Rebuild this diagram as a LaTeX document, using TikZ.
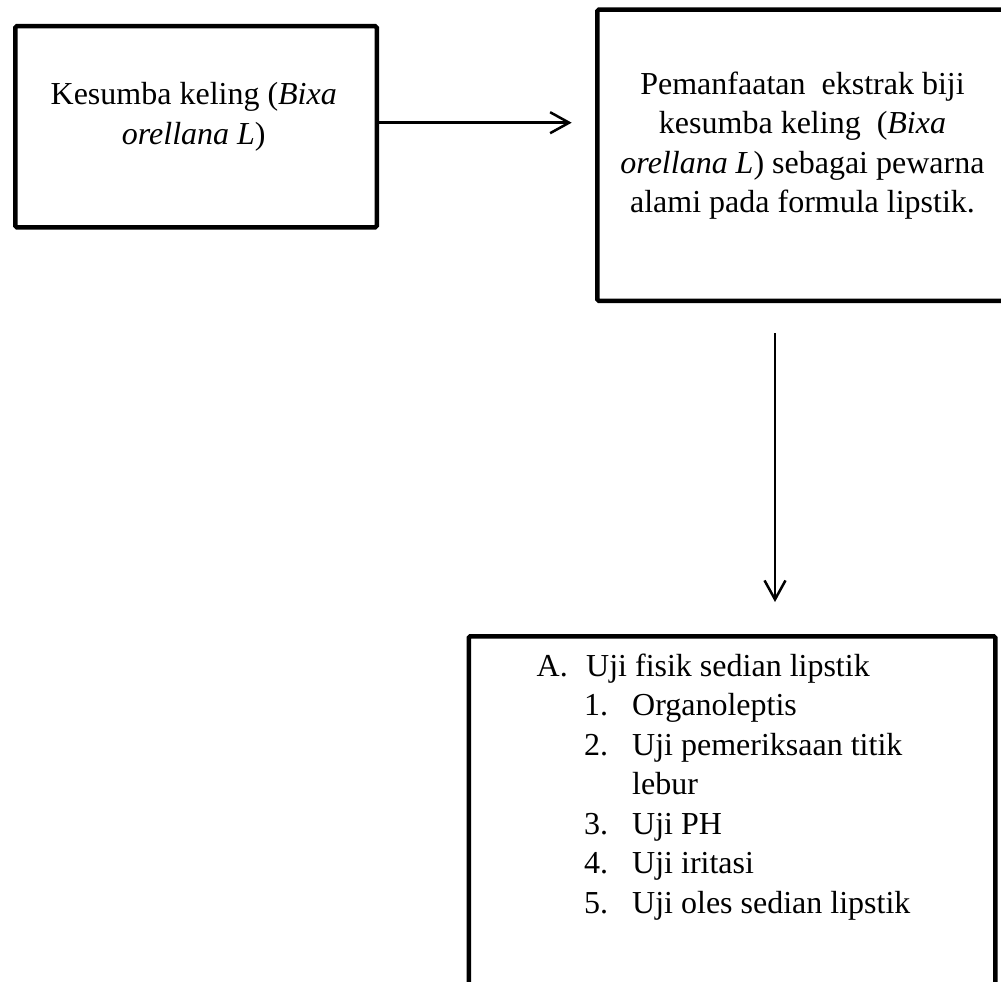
\documentclass[tikz,border=0pt]{standalone}
\usepackage{fontspec}
\setmainfont{Liberation Serif}
\usetikzlibrary{arrows.meta}
\begin{document}
\begin{tikzpicture}[x=1pt,y=-1pt,
  box/.style={draw=black, line width=4.5pt, rounded corners=1.5pt, inner sep=0pt, anchor=north west},
  txt/.style={inner sep=0pt, font=\fontsize{32}{40}\selectfont},
  ctr/.style={txt, anchor=base},
  lft/.style={txt, anchor=base west},
  conn/.style={line width=2.5pt, -{Straight Barb[length=19pt,width=21pt,line width=2.5pt]}}]
\useasboundingbox (0,0) rectangle (1001,982);
\fill[white] (0,0) rectangle (1001,982);
\clip (0,0) rectangle (1001,982);
% boxes
\node[box, minimum width=361.5pt, minimum height=201pt] (b1) at (13,24) {};
\node[box, minimum width=414pt, minimum height=291pt] (b2) at (595,7.5) {};
\node[box, minimum width=526.5pt, minimum height=386pt] (b3) at (466.5,634) {};
% box 1 text
\node[ctr] (t1a) at (193.75,104) {Kesumba keling (\textit{Bixa}};
\node[ctr] (t1b) at (193.75,144) {\textit{orellana L})};
% box 2 text
\node[ctr] (t2a) at (802.5,94) {Pemanfaatan\ \ ekstrak biji};
\node[ctr] (t2b) at (802.5,133.5) {kesumba keling\ \ (\textit{Bixa}};
\node[ctr] (t2c) at (802.5,173) {\textit{orellana L}) sebagai pewarna};
\node[ctr] (t2d) at (802.5,212.5) {alami pada formula lipstik.};
% box 3 text
\node[lft] (lA) at (536.5,676) {A.};
\node[lft] (iA) at (586,676) {Uji fisik sedian lipstik};
\node[lft] (l1) at (584,715.5) {1.};
\node[lft] (i1) at (632,715.5) {Organoleptis};
\node[lft] (l2) at (584,755) {2.};
\node[lft] (i2) at (632,755) {Uji pemeriksaan titik};
\node[lft] (i2b) at (632,794.5) {lebur};
\node[lft] (l3) at (584,834) {3.};
\node[lft] (i3) at (632,834) {Uji PH};
\node[lft] (l4) at (584,873.5) {4.};
\node[lft] (i4) at (632,873.5) {Uji iritasi};
\node[lft] (l5) at (584,913) {5.};
\node[lft] (i5) at (632,913) {Uji oles sedian lipstik};
% connectors
\coordinate (h1) at (571.7,122.7);
\draw[conn] (b1.east |- h1) -- (h1);
\coordinate (v1) at (775,333);
\coordinate (v2) at (775,602);
\draw[conn] (v1) -- (v2);
\end{tikzpicture}
\end{document}
